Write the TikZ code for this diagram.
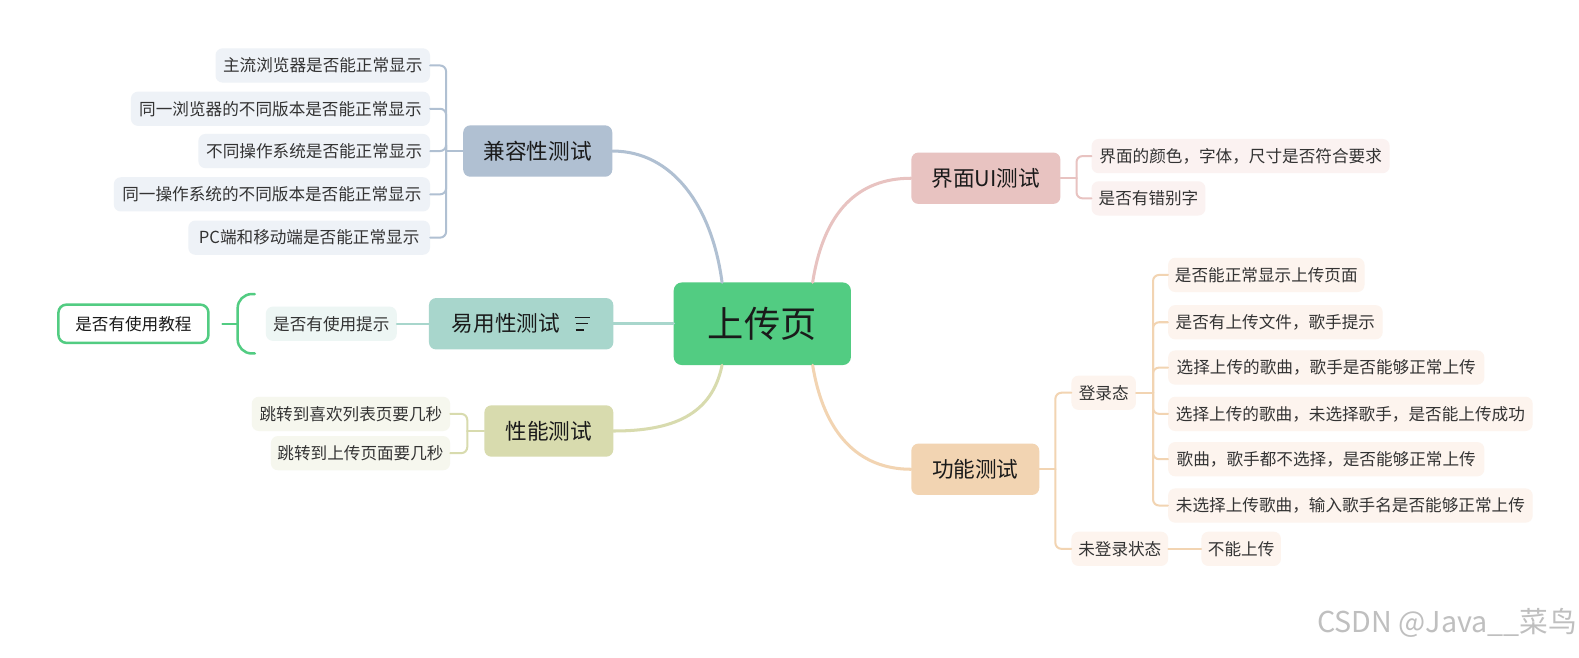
\documentclass[tikz,border=0pt]{standalone}
\usepackage{fontspec}
\newfontfamily\cjk{Noto Sans CJK SC}
\usetikzlibrary{calc}
\definecolor{rootG}{RGB}{82,204,130}
\definecolor{kB}{RGB}{176,192,210}
\definecolor{kBl}{RGB}{238,242,247}
\definecolor{tT}{RGB}{168,214,204}
\definecolor{tTl}{RGB}{237,246,244}
\definecolor{oO}{RGB}{216,219,174}
\definecolor{oOl}{RGB}{246,247,238}
\definecolor{pP}{RGB}{232,195,193}
\definecolor{pPl}{RGB}{251,242,241}
\definecolor{gG}{RGB}{242,212,178}
\definecolor{gGl}{RGB}{253,244,238}
\definecolor{leafText}{RGB}{51,51,51}
\definecolor{mainText}{RGB}{26,26,26}
\begin{document}
\begin{tikzpicture}[x=1pt,y=-1pt,
  leaf/.style={rounded corners=7pt, inner sep=0pt, minimum height=34pt, text=leafText, font=\cjk\fontsize{16.5}{18}\selectfont},
  mainbox/.style={rounded corners=7pt, inner sep=0pt, minimum height=51pt, text=mainText, font=\cjk\fontsize{21.5}{24}\selectfont},
  conn/.style={line width=2pt, line cap=round},
  trunk/.style={line width=3pt, line cap=round},
  brk/.style={conn, rounded corners=6pt}
]
\useasboundingbox[fill=white] (0,0) rectangle (1568,653);

% root
\node[rounded corners=8pt, fill=rootG, minimum width=176pt, minimum height=82pt, inner sep=0pt, text=mainText, font=\cjk\fontsize{36}{40}\selectfont] (root) at (757,321.5) {上传页};

% main branches
\node[mainbox, fill=kB, minimum width=148pt] (kr) at (534,150) {兼容性测试};
\node[mainbox, fill=tT, minimum width=183pt] (yy) at (517.5,321.5) {易用性测试\hspace*{30pt}};
\node[mainbox, fill=oO, minimum width=128pt] (xn) at (545,428) {性能测试};
\node[mainbox, fill=pP, minimum width=148pt] (jm) at (979,177) {界面UI测试};
\node[mainbox, fill=gG, minimum width=127pt] (gn) at (968.5,466) {功能测试};

% icon on 易用性测试
\draw[line width=1.4pt, mainText] ($(yy.center)+(53,-6)$) -- ++(15,0);
\draw[line width=1.4pt, mainText] ($(yy.center)+(54,0)$) -- ++(12,0);
\draw[line width=1.4pt, mainText] ($(yy.center)+(54,6)$) -- ++(8,0);

% trunk curves
\draw[trunk, kB] ($(root.north)+(-40,0)$) .. controls (707,205) and (668,150) .. (kr.east);
\draw[trunk, pP] ($(root.north)+(50,0)$) .. controls (818,210) and (852,177) .. (jm.west);
\draw[trunk, tT] (root.west) -- (yy.east);
\draw[trunk, oO] ($(root.south)+(-40,0)$) .. controls (707,412) and (668,428) .. (xn.east);
\draw[trunk, gG] ($(root.south)+(50,0)$) .. controls (818,430) and (852,466) .. (gn.west);

% 兼容性测试 leaves
\node[leaf, fill=kBl, minimum width=213pt] (k1) at (320.5,65) {主流浏览器是否能正常显示};
\node[leaf, fill=kBl, minimum width=297pt] (k2) at (278.5,108) {同一浏览器的不同版本是否能正常显示};
\node[leaf, fill=kBl, minimum width=230pt] (k3) at (312,150) {不同操作系统是否能正常显示};
\node[leaf, fill=kBl, minimum width=314pt] (k4) at (270,193) {同一操作系统的不同版本是否能正常显示};
\node[leaf, fill=kBl, minimum width=240pt] (k5) at (307,236) {PC端和移动端是否能正常显示};
\coordinate (kj) at (443,150);
\draw[conn, kB] (kr.west) -- (kj);
\foreach \n in {k1,k2,k3,k4,k5} \draw[brk, kB] (kj) |- (\n.east);

% 易用性测试
\node[leaf, fill=tTl, minimum width=130pt] (y1) at (329,321.5) {是否有使用提示};
\draw[conn, tT] (yy.west) -- (y1.east);
\node[rounded corners=8pt, draw=rootG, line width=2.5pt, fill=white, minimum width=149pt, minimum height=38pt, inner sep=0pt, text=mainText, font=\cjk\fontsize{16.5}{18}\selectfont] (tj) at (132.5,321.5) {是否有使用教程};
\coordinate (ts) at (221,321.5);
\coordinate (tb) at (236,321.5);
\coordinate (tt) at (253,292);
\coordinate (tbot) at (253,351);
\draw[line width=2.5pt, rootG, line cap=round] (ts) -- (tb);
\draw[line width=2.5pt, rootG, line cap=round, rounded corners=14pt] (tt) -| (tb) |- (tbot);

% 性能测试 leaves
\node[leaf, fill=oOl, minimum width=197pt] (x1) at (348.5,411) {跳转到喜欢列表页要几秒};
\node[leaf, fill=oOl, minimum width=178pt] (x2) at (358,450) {跳转到上传页面要几秒};
\coordinate (xj) at (464,428);
\draw[conn, oO] (xn.west) -- (xj);
\foreach \n in {x1,x2} \draw[brk, oO] (xj) |- (\n.east);

% 界面UI测试 leaves
\node[leaf, fill=pPl, minimum width=296pt] (j1) at (1232,155) {界面的颜色，字体，尺寸是否符合要求};
\node[leaf, fill=pPl, minimum width=113pt] (j2) at (1140.5,197) {是否有错别字};
\coordinate (jj) at (1069,177);
\draw[conn, pP] (jm.east) -- (jj);
\foreach \n in {j1,j2} \draw[brk, pP] (jj) |- (\n.west);

% 功能测试
\node[leaf, fill=gGl, minimum width=64pt] (g1) at (1096,390) {登录态};
\node[leaf, fill=gGl, minimum width=96pt] (g2) at (1112,545) {未登录状态};
\coordinate (gj) at (1048,466);
\draw[conn, gG] (gn.east) -- (gj);
\foreach \n in {g1,g2} \draw[brk, gG] (gj) |- (\n.west);

\node[leaf, fill=gGl, minimum width=195pt] (ga) at (1257.5,273) {是否能正常显示上传页面};
\node[leaf, fill=gGl, minimum width=213pt] (gb) at (1266.5,320) {是否有上传文件，歌手提示};
\node[leaf, fill=gGl, minimum width=314pt] (gc) at (1317,365) {选择上传的歌曲，歌手是否能够正常上传};
\node[leaf, fill=gGl, minimum width=362pt] (gd) at (1341,411) {选择上传的歌曲，未选择歌手，是否能上传成功};
\node[leaf, fill=gGl, minimum width=314pt] (ge) at (1317,456) {歌曲，歌手都不选择，是否能够正常上传};
\node[leaf, fill=gGl, minimum width=362pt] (gf) at (1341,502) {未选择上传歌曲，输入歌手名是否能够正常上传};
\coordinate (lj) at (1145,390);
\draw[conn, gG] (g1.east) -- (lj);
\foreach \n in {ga,gb,gc,gd,ge,gf} \draw[brk, gG] (lj) |- (\n.west);

\node[leaf, fill=gGl, minimum width=79pt] (g21) at (1232.5,545) {不能上传};
\draw[conn, gG] (g2.east) -- (g21.west);

% watermark
\node[text=black!25, font=\cjk\fontsize{28.5}{32}\selectfont] (wm) at (1437,619) {CSDN @Java\_\_菜鸟};
\end{tikzpicture}
\end{document}
